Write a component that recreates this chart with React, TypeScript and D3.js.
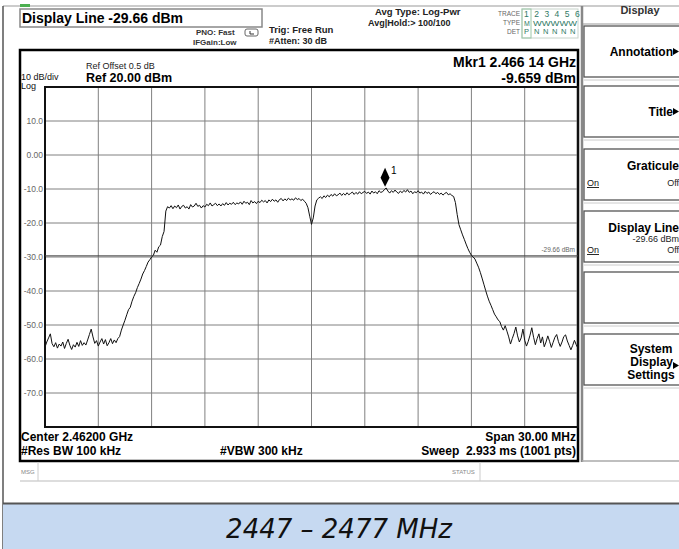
import React from 'react';
import * as d3 from 'd3';

// sweep: 2447 - 2477 MHz, read every 0.1 MHz off the screenshot
const startMHz = 2447;
const stopMHz = 2477;
const stepMHz = 0.1;
const traceDbm = [
  -56.5, -55.0, -53.8, -52.6, -55.5, -56.4, -55.2, -56.8, -55.6, -56.2, // 2447
  -55.0, -56.9, -55.4, -54.2, -56.0, -57.2, -55.8, -56.5, -55.1, -56.3, // 2448
  -54.6, -56.0, -55.2, -55.9, -54.4, -52.8, -51.2, -53.5, -55.4, -54.6, // 2449
  -56.2, -55.0, -54.0, -55.6, -54.3, -56.1, -55.2, -54.0, -55.5, -54.4, // 2450
  -55.2, -54.0, -53.4, -51.5, -50.0, -48.6, -47.0, -45.5, -44.8, -43.0, // 2451
  -41.6, -40.5, -39.0, -37.8, -36.5, -35.0, -34.0, -32.8, -31.5, -30.8, // 2452
  -30.0, -29.5, -28.0, -28.6, -27.0, -26.5, -24.0, -22.5, -16.5, -15.2, // 2453
  -15.6, -14.9, -15.8, -15.0, -15.5, -14.7, -15.9, -15.1, -14.8, -15.6, // 2454
  -15.2, -15.9, -14.6, -15.3, -15.0, -14.2, -15.1, -14.8, -15.6, -14.9, // 2455
  -15.3, -14.5, -14.9, -14.1, -15.0, -14.6, -14.2, -14.9, -14.4, -15.0, // 2456
  -14.3, -14.8, -14.0, -14.7, -14.2, -14.5, -13.9, -14.6, -14.1, -14.4, // 2457
  -13.8, -14.5, -13.6, -14.2, -13.9, -14.6, -13.4, -14.1, -13.7, -14.3, // 2458
  -13.6, -14.0, -13.3, -13.8, -13.4, -14.1, -13.2, -13.7, -13.0, -13.6, // 2459
  -13.2, -13.9, -13.1, -12.8, -13.5, -12.9, -13.4, -12.7, -13.2, -12.9, // 2460
  -13.3, -12.6, -13.1, -12.8, -13.4, -13.0, -13.6, -14.2, -15.5, -18.0, // 2461
  -20.4, -18.5, -15.0, -13.2, -12.7, -12.3, -12.8, -12.0, -12.5, -11.8, // 2462
  -12.3, -11.6, -12.1, -11.4, -12.0, -11.7, -11.2, -11.9, -11.3, -11.8, // 2463
  -11.1, -11.7, -11.3, -10.9, -11.6, -11.0, -11.5, -10.8, -11.4, -11.0, // 2464
  -10.7, -11.3, -10.9, -11.5, -10.6, -11.2, -10.8, -11.4, -10.5, -11.0, // 2465
  -10.8, -10.2, -9.7, -10.6, -11.2, -10.5, -11.0, -10.3, -10.9, -11.3, // 2466
  -10.6, -11.1, -10.4, -10.9, -10.2, -11.0, -10.6, -11.4, -10.8, -11.1, // 2467
  -10.5, -11.2, -10.9, -11.5, -10.7, -11.3, -10.9, -11.6, -11.1, -10.8, // 2468
  -11.4, -11.0, -11.6, -11.2, -11.8, -11.3, -11.0, -11.7, -11.4, -11.9, // 2469
  -12.2, -14.0, -17.5, -20.5, -22.0, -23.5, -24.8, -26.2, -27.5, -28.6, // 2470
  -29.5, -30.0, -30.6, -31.8, -33.0, -34.5, -36.2, -38.0, -39.8, -41.5, // 2471
  -43.0, -44.2, -45.5, -46.8, -47.6, -48.5, -49.0, -50.5, -51.5, -50.2, // 2472
  -51.8, -53.5, -55.6, -54.0, -52.5, -50.6, -53.2, -55.0, -53.8, -51.2, // 2473
  -54.5, -56.2, -54.8, -53.0, -50.8, -53.6, -55.8, -54.0, -52.6, -55.3, // 2474
  -53.5, -56.4, -55.0, -53.2, -54.8, -56.6, -55.1, -53.6, -52.8, -54.9, // 2475
  -56.3, -55.0, -53.4, -52.9, -54.7, -56.0, -57.3, -56.0, -54.5, -55.8, // 2476
  -56.9,
];
const gridMHz = [2447, 2450, 2453, 2456, 2459, 2462, 2465, 2468, 2471, 2474, 2477];
const levelTicks = [10, 0, -10, -20, -30, -40, -50, -60, -70];
const levelLabels = ['10.0', '0.00', '-10.0', '-20.0', '-30.0', '-40.0', '-50.0', '-60.0', '-70.0'];
const refLevel = 20;
const bottomLevel = -80;
const markerMHz = 2466.14;
const markerDbm = -9.659;
const displayLineDbm = -29.66;

const softkeys = [
  { top: 26, title: ['Annotation'], arrow: true },
  { top: 86, title: ['Title'], arrow: true },
  { top: 149, title: ['Graticule'], onOff: true },
  { top: 211, title: ['Display Line'], sub: '-29.66 dBm', onOff: true },
  { top: 272, title: [] },
  { top: 334, title: ['System', 'Display', 'Settings'], arrow: true },
];

const sans = "'Liberation Sans', Arial, sans-serif";

const App = () => {
  const x = d3.scaleLinear().domain([startMHz, stopMHz]).range([45, 578]);
  const y = d3.scaleLinear().domain([bottomLevel, refLevel]).range([427, 87]);

  const pts: [number, number][] = traceDbm.map((v, i) => [startMHz + i * stepMHz, v]);
  const line = d3.line<[number, number]>().x(d => x(d[0])).y(d => y(d[1]));

  const mx = x(markerMHz);
  const my = y(markerDbm);
  const dl = y(displayLineDbm);

  return (
    <svg width={679} height={549} style={{ position: 'absolute', left: 0, top: 0, background: '#fff' }}
      fontFamily={sans}>
      {/* outer frame */}
      <line x1={3} y1={6} x2={679} y2={6} stroke="#999" />
      <line x1={3} y1={6} x2={3} y2={549} stroke="#555" strokeWidth={1.5} />
      <rect x={20} y={4} width={10} height={3} fill="#4caf50" />

      {/* header */}
      <rect x={20} y={9} width={242} height={18} fill="#fff" stroke="#888" strokeWidth={1.5} />
      <text x={22} y={23} fontSize={14} fontWeight="bold">Display Line -29.66 dBm</text>
      <text x={196} y={35} fontSize={8} fontWeight="bold" fill="#333">PNO: Fast</text>
      <text x={193} y={45} fontSize={8} fontWeight="bold" fill="#333">IFGain:Low</text>
      <rect x={245} y={29} width={13} height={7} rx={2} fill="none" stroke="#666" />
      <path d="M250,31 L250,34 L254,34" fill="none" stroke="#333" />
      <text x={269} y={33} fontSize={9.5} fontWeight="bold" fill="#222">Trig: Free Run</text>
      <text x={269} y={44} fontSize={9} fontWeight="bold" fill="#222">#Atten: 30 dB</text>
      <text x={375} y={15} fontSize={9.5} fontWeight="bold" fill="#222">Avg Type: Log-Pwr</text>
      <text x={368} y={25.5} fontSize={9} fontWeight="bold" fill="#222">Avg|Hold:&gt; 100/100</text>

      <text x={520} y={16} fontSize={6.5} fill="#666" textAnchor="end">TRACE</text>
      <text x={520} y={25} fontSize={6.5} fill="#666" textAnchor="end">TYPE</text>
      <text x={520} y={34} fontSize={6.5} fill="#666" textAnchor="end">DET</text>
      <rect x={522} y={9} width={56} height={29} fill="none" stroke="#c8d4cc" />
      <rect x={522} y={9} width={9} height={29} fill="none" stroke="#9cc7a8" />
      {['1', '2', '3', '4', '5', '6'].map((t, i) => (
        <text key={t} x={524 + i * 10.2} y={17} fontSize={8.5} fill="#2f7a66">{t}</text>
      ))}
      <text x={524} y={25.5} fontSize={7} fill="#2f7a66">M</text>
      <text x={533} y={25.5} fontSize={7} fill="#2f7a66" textLength={44} lengthAdjust="spacingAndGlyphs">WWWWW</text>
      <text x={524} y={34} fontSize={7.5} fill="#2f7a66">P</text>
      {[0, 1, 2, 3, 4].map(i => (
        <text key={i} x={534 + i * 9} y={34} fontSize={7.5} fill="#2f7a66">N</text>
      ))}

      {/* right softkey panel */}
      <line x1={582} y1={6} x2={582} y2={462} stroke="#888" strokeWidth={2.5} />
      <line x1={582} y1={461} x2={679} y2={461} stroke="#aaa" strokeWidth={1.5} />
      <text x={640} y={14} fontSize={11} fontWeight="bold" fill="#333" textAnchor="middle">Display</text>
      <line x1={583} y1={24} x2={679} y2={24} stroke="#999" />
      {softkeys.map(k => (
        <g key={k.top}>
          <rect x={584} y={k.top} width={100} height={51} fill="#fff" stroke="#555" strokeWidth={1.3} />
          <line x1={584} y1={k.top + 54} x2={679} y2={k.top + 54} stroke="#ccc" />
          {k.title.length === 1 && (
            <text x={k.arrow ? 673 : 679} y={k.onOff ? k.top + 21 : k.top + 30}
              fontSize={12} fontWeight="bold" textAnchor="end">{k.title[0]}</text>
          )}
          {k.title.length === 3 && k.title.map((t, i) => (
            <text key={t} x={i === 1 ? 673 : 651} y={k.top + 19 + i * 13} fontSize={12} fontWeight="bold"
              textAnchor={i === 1 ? 'end' : 'middle'}>{t}</text>
          ))}
          {k.arrow && (
            <path d={`M673,${k.title.length === 3 ? k.top + 28 : k.top + 22} l6,3.5 l-6,3.5 z`} fill="#000" />
          )}
          {k.sub && (
            <text x={679} y={k.top + 31} fontSize={9} fill="#222" textAnchor="end">{k.sub}</text>
          )}
          {k.onOff && (
            <>
              <text x={587} y={k.top + (k.sub ? 42 : 37)} fontSize={9} fill="#111" textDecoration="underline">On</text>
              <text x={679} y={k.top + (k.sub ? 42 : 37)} fontSize={9} fill="#222" textAnchor="end">Off</text>
            </>
          )}
        </g>
      ))}

      {/* main display box */}
      <rect x={20} y={50} width={558} height={411} fill="none" stroke="#000" strokeWidth={2.5} />
      <text x={86} y={69} fontSize={9} fill="#222">Ref Offset 0.5 dB</text>
      <text x={86} y={82} fontSize={12.5} fontWeight="bold">Ref 20.00 dBm</text>
      <text x={21} y={79.5} fontSize={9} fill="#111">10 dB/div</text>
      <text x={21} y={88.5} fontSize={9} fill="#111">Log</text>
      <text x={576} y={67} fontSize={14} fontWeight="bold" textAnchor="end">Mkr1 2.466 14 GHz</text>
      <text x={576} y={83} fontSize={14} fontWeight="bold" textAnchor="end">-9.659 dBm</text>

      {/* graticule */}
      {levelTicks.map((v, i) => (
        <g key={v}>
          <line x1={45} x2={578} y1={y(v)} y2={y(v)} stroke="#808080" />
          <text x={43} y={y(v) + 3} fontSize={8.5} fill="#666" textAnchor="end">{levelLabels[i]}</text>
        </g>
      ))}
      {gridMHz.slice(1, -1).map(f => (
        <line key={f} x1={x(f)} x2={x(f)} y1={87} y2={427} stroke="#808080" />
      ))}
      <rect x={45} y={87} width={533} height={340} fill="none" stroke="#111" strokeWidth={2} />

      {/* display line */}
      <line x1={45} x2={578} y1={dl} y2={dl} stroke="#444" />
      <text x={575} y={dl - 4} fontSize={6.5} fill="#666" textAnchor="end">-29.66 dBm</text>

      {/* trace */}
      <path d={line(pts) || ''} fill="none" stroke="#111" strokeWidth={1} />

      {/* marker */}
      <path d={`M${mx},${my - 1} L${mx + 4.5},${my - 10} L${mx},${my - 20} L${mx - 4.5},${my - 10} Z`} fill="#000" />
      <text x={mx + 6} y={my - 14} fontSize={10}>1</text>

      {/* bottom annotations */}
      <text x={21} y={441} fontSize={12} fontWeight="bold">Center 2.46200 GHz</text>
      <text x={21} y={455} fontSize={12} fontWeight="bold">#Res BW 100 kHz</text>
      <text x={220} y={455} fontSize={12} fontWeight="bold">#VBW 300 kHz</text>
      <text x={576} y={441} fontSize={12} fontWeight="bold" textAnchor="end">Span 30.00 MHz</text>
      <text x={576} y={455} fontSize={12} fontWeight="bold" textAnchor="end" style={{ whiteSpace: 'pre' }}>Sweep  2.933 ms (1001 pts)</text>

      {/* message bar */}
      <line x1={20} y1={481} x2={679} y2={481} stroke="#bbb" />
      <line x1={38} y1={462} x2={38} y2={481} stroke="#ccc" />
      <line x1={480} y1={462} x2={480} y2={481} stroke="#ccc" />
      <text x={21} y={474} fontSize={6} fill="#888">MSG</text>
      <text x={452} y={474} fontSize={6} fill="#888">STATUS</text>

      {/* caption band */}
      <rect x={3} y={504} width={676} height={45} fill="#c6d9f1" />
      <line x1={3} y1={503.5} x2={679} y2={503.5} stroke="#555" strokeWidth={2} />
      <text x={339} y={538} fontSize={26} fontStyle="italic" textAnchor="middle"
        fontFamily="'DejaVu Sans', sans-serif" fill="#111">2447 – 2477 MHz</text>
    </svg>
  );
};

export default App;
